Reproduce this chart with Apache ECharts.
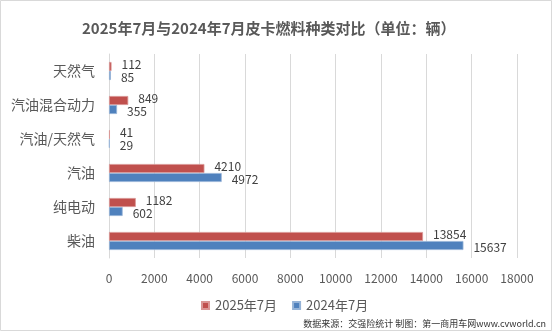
<!DOCTYPE html>
<html>
<head>
<meta charset="utf-8">
<script src="https://cdn.jsdelivr.net/npm/echarts@6/dist/echarts.min.js"></script>
<style>
  html, body { margin: 0; padding: 0; background: #ffffff; }
  #chart { width: 554px; height: 333px; }
</style>
</head>
<body>
<div id="chart"></div>
<script>
// Fuel types, listed bottom-to-top along the category axis
const categories = ['柴油', '纯电动', '汽油', '汽油/天然气', '汽油混合动力', '天然气'];
const seriesNames = ['2025年7月', '2024年7月'];
const values2025 = [13854, 1182, 4210, 41, 849, 112];
const values2024 = [15637, 602, 4972, 29, 355, 85];
const titleText = '2025年7月与2024年7月皮卡燃料种类对比（单位：辆）';
const sourceText = '数据来源：交强险统计 制图：第一商用车网www.cvworld.cn';

const FONT = '"Noto Sans CJK SC", "Noto Sans", sans-serif';
const chart = echarts.init(document.getElementById('chart'), null, { renderer: 'canvas' });

function barSeries(name, data, color, border, dy) {
  return {
    name: name,
    type: 'bar',
    data: data,
    barWidth: 9,
    barGap: '0%',
    itemStyle: { color: color, borderColor: border, borderWidth: 0.8 },
    label: {
      show: true,
      position: 'right',
      distance: 10,
      offset: [0, dy],
      color: '#404040',
      fontSize: 12,
      fontFamily: FONT
    }
  };
}

chart.setOption({
  backgroundColor: '#ffffff',
  animation: false,
  title: {
    text: titleText,
    left: 77,
    top: 16,
    textStyle: { color: '#595959', fontSize: 15, fontWeight: 'bold', fontFamily: FONT }
  },
  legend: {
    data: seriesNames,
    top: 294,
    left: 196,
    itemWidth: 7,
    itemHeight: 7,
    itemGap: 15,
    icon: 'rect',
    textStyle: { color: '#595959', fontSize: 13, padding: [0, 0, 0, 1], fontFamily: FONT }
  },
  grid: { left: 109, right: 37, top: 54, bottom: 75, containLabel: false },
  xAxis: {
    type: 'value',
    min: 0,
    max: 18000,
    interval: 2000,
    axisLine: { show: false },
    axisTick: { show: false },
    splitLine: { lineStyle: { color: '#d9d9d9', width: 1 } },
    axisLabel: {
      color: '#595959',
      fontSize: 12,
      margin: 14,
      fontFamily: FONT,
      formatter: function (v) { return String(v); }
    }
  },
  yAxis: {
    type: 'category',
    data: categories,
    axisLine: { show: true, lineStyle: { color: '#d9d9d9' } },
    axisTick: { show: false },
    axisLabel: { color: '#595959', fontSize: 14, margin: 14, fontFamily: FONT }
  },
  series: [
    barSeries(seriesNames[0], values2025, '#c0504d', '#d99694', -2),
    barSeries(seriesNames[1], values2024, '#4f81bd', '#95b3d7', 2)
  ],
  graphic: [
    {
      type: 'rect',
      shape: { x: 0.5, y: 0.5, width: 551, height: 330 },
      style: { fill: 'none', stroke: '#d9d9d9', lineWidth: 1 },
      silent: true
    },
    {
      type: 'text',
      right: 8,
      top: 319,
      style: { text: sourceText, fill: '#333333', fontSize: 9, fontFamily: FONT }
    }
  ]
});
</script>
</body>
</html>
